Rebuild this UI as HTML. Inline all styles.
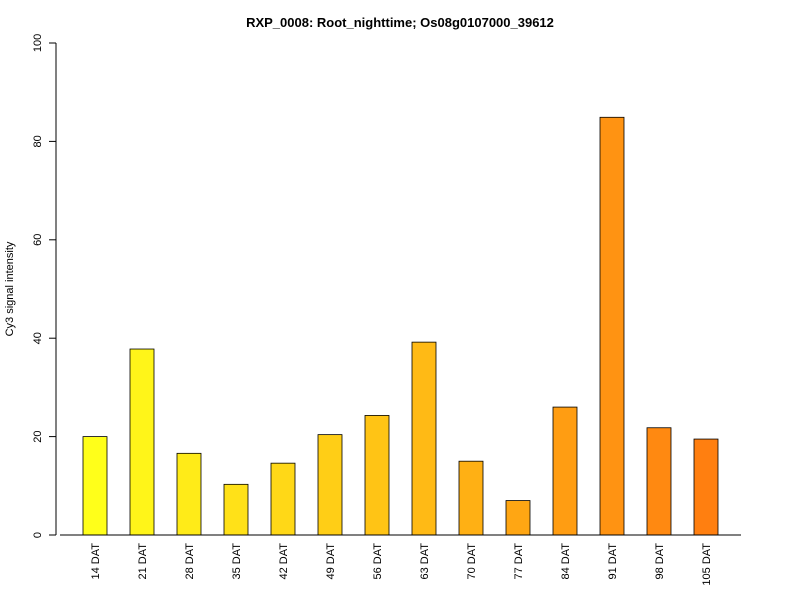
<!DOCTYPE html>
<html><head><meta charset="utf-8"><style>
body{margin:0;background:#fff}
svg text{font-family:"Liberation Sans",Arial,sans-serif}
</style></head><body>
<svg id="chart" width="800" height="600" xmlns="http://www.w3.org/2000/svg">
<rect width="800" height="600" fill="#fff"/>
<text x="400" y="27" text-anchor="middle" font-size="13" font-weight="bold">RXP_0008: Root_nighttime; Os08g0107000_39612</text>
<text transform="translate(13,289) rotate(-90)" text-anchor="middle" font-size="11">Cy3 signal intensity</text>
<g id="yaxis"></g>
<g id="bars"></g>
<g id="xlabels"></g>
<line x1="60" y1="535" x2="741" y2="535" stroke="#000"/>
</svg>
<script>
const categories=["14 DAT","21 DAT","28 DAT","35 DAT","42 DAT","49 DAT","56 DAT","63 DAT","70 DAT","77 DAT","84 DAT","91 DAT","98 DAT","105 DAT"];
const values=[20.0,37.8,16.6,10.3,14.6,20.4,24.3,39.2,15.0,7.0,26.0,84.9,21.8,19.5];
const yTicks=[0,20,40,60,80,100];
const NS="http://www.w3.org/2000/svg";
const y0=535,y100=43;
function yScale(v){return y0-(v/100)*(y0-y100);}
function xLeft(i){return 83+i*47;}
const bw=24;
function mk(t,a){const e=document.createElementNS(NS,t);for(const k in a)e.setAttribute(k,a[k]);return e;}
const ya=document.getElementById('yaxis');
const yl=mk('line',{x1:56,x2:56,y1:yScale(0),y2:yScale(100),stroke:'#000'});


ya.appendChild(yl);
yTicks.forEach(t=>{
  const l=mk('line',{x1:49,x2:56,y1:yScale(t),y2:yScale(t),stroke:'#000'});
  
  
  ya.appendChild(l);
  const tx=mk('text',{transform:`translate(41,${yScale(t)}) rotate(-90)`,'text-anchor':'middle','font-size':'11'});
  tx.textContent=t;
  
  
  ya.appendChild(tx);
});
const bg=document.getElementById('bars'),xg=document.getElementById('xlabels');
const n=categories.length;
values.forEach((v,i)=>{
  const f=n>1?i/(n-1):0;
  const g=Math.round(255-f*(255-127)),b=Math.round(26-f*(26-16));
  const r=mk('rect',{x:xLeft(i),y:yScale(v),width:bw,height:yScale(0)-yScale(v),fill:`rgb(255,${g},${b})`,stroke:'#000','stroke-width':0.8});
  
  
  bg.appendChild(r);
  const cx=xLeft(i)+bw/2;
  const t=mk('text',{transform:`translate(${cx+4},543) rotate(-90)`,'text-anchor':'end','font-size':'11'});
  t.textContent=categories[i];
  
  
  xg.appendChild(t);
});
</script>
</body></html>
